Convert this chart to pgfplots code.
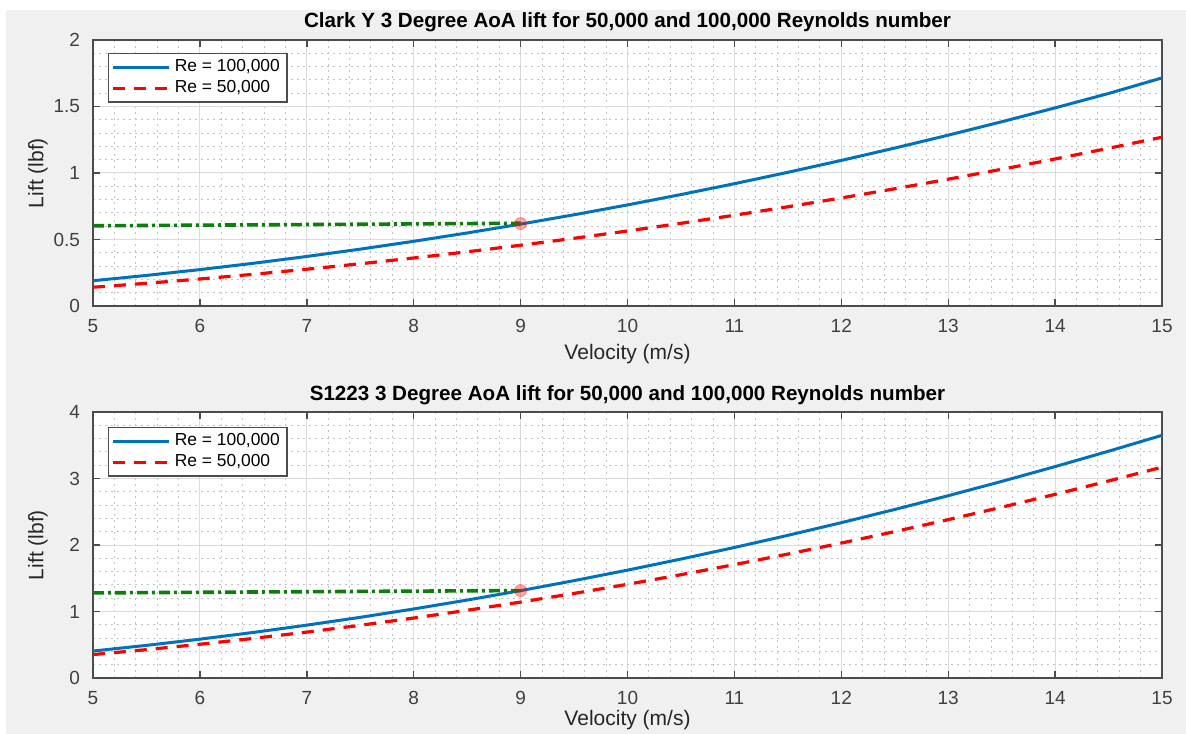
\documentclass[border=0pt]{standalone}
\usepackage{pgfplots}
\pgfplotsset{compat=1.18}
\usepackage{fontspec}
\setmainfont{Liberation Sans}
\definecolor{mblue}{RGB}{0,114,189}
\definecolor{mgreen}{RGB}{10,128,10}
\definecolor{figbg}{RGB}{240,240,240}
\definecolor{tickc}{RGB}{64,64,64}

\pgfplotstableread{
V a b
5 0.190 0.141
5.5 0.2299 0.1706
6 0.2736 0.2030
6.5 0.3211 0.2383
7 0.3724 0.2764
7.5 0.4275 0.3173
8 0.4864 0.3610
8.5 0.5491 0.4075
9 0.6156 0.4568
9.5 0.6859 0.5090
10 0.7600 0.5640
10.5 0.8379 0.6218
11 0.9196 0.6824
11.5 1.0051 0.7459
12 1.0944 0.8122
12.5 1.1875 0.8813
13 1.2844 0.9532
13.5 1.3851 1.0279
14 1.4896 1.1054
14.5 1.5979 1.1858
15 1.7150 1.2690
}\clarky

\pgfplotstableread{
V a b
5 0.4055 0.3523
5.5 0.4907 0.4262
6 0.5839 0.5072
6.5 0.6853 0.5953
7 0.7948 0.6904
7.5 0.9124 0.7926
8 1.0381 0.9018
8.5 1.1719 1.0180
9 1.3138 1.1413
9.5 1.4639 1.2716
10 1.6220 1.4090
10.5 1.7883 1.5534
11 1.9626 1.7049
11.5 2.1451 1.8634
12 2.3357 2.0290
12.5 2.5344 2.2016
13 2.7412 2.3812
13.5 2.9561 2.5679
14 3.1791 2.7616
14.5 3.4103 2.9624
15 3.6495 3.1703
}\selig

\pgfplotsset{
  every axis title shift=0pt,
  mstyle/.style={
    scale only axis,
    width=534.5bp, height=133bp,
    xmin=5, xmax=15, xtick={5,6,...,15},
    minor x tick num=4, minor y tick num=4,
    grid=both,
    major grid style={draw=black!14, line width=0.5bp},
    minor grid style={draw=black!24, line width=0.45bp, dash pattern=on 1bp off 2bp},
    axis line style={draw=black!70, line width=0.9bp},
    tick style={draw=black!70, line width=0.7bp},
    major tick length=3.5bp, minor tick length=0pt,
    tick align=inside,
    axis background/.style={fill=white},
    ticklabel style={font=\fontsize{9.5bp}{11bp}\selectfont, text=tickc},
    xticklabel style={anchor=center, yshift=-10bp},
    yticklabel style={anchor=east, xshift=-3bp},
    y tick label style={/pgf/number format/.cd, fixed, assume math mode=true},
    x tick label style={/pgf/number format/assume math mode=true},
    label style={font=\fontsize{10.5bp}{12bp}\selectfont, text=black!85},
    xlabel={Velocity (m/s)},
    ylabel={Lift (lbf)},
    y label style={at={(axis description cs:-0.0515,0.5)}, anchor=center, rotate=0},
    title style={font=\bfseries\fontsize{10.3bp}{12bp}\selectfont, anchor=center},
    legend cell align=left,
    legend style={draw=black!70, fill=white, line width=0.7bp,
      font=\fontsize{8.7bp}{10bp}\selectfont, inner xsep=1.5bp, inner ysep=1bp,
      row sep=-1bp},
    legend image code/.code={\draw[#1] (0bp,0bp) -- (28bp,0bp);},
  },
  blueline/.style={draw=mblue, line width=1.5bp, no marks},
  redline/.style={draw=red, line width=1.6bp, no marks, dash pattern=on 6bp off 4.5bp},
  greenline/.style={draw=mgreen, line width=1.8bp, no marks, dash pattern=on 5.5bp off 2bp on 1.5bp off 2bp},
  hit/.style={only marks, mark=*, mark size=3bp, mark options={fill=red, draw=red, fill opacity=0.35, draw opacity=0.35}, forget plot},
}

\begin{document}
\begin{tikzpicture}
\useasboundingbox (0,0) rectangle (593bp,367bp);
\fill[white] (0,0) rectangle (593bp,367bp);
\fill[figbg] (3bp,0) rectangle (593bp,362bp);

\begin{axis}[mstyle,
  at={(46.5bp,214bp)}, anchor=south west,
  ymin=0, ymax=2, ytick={0,0.5,...,2},
  yticklabels={0,0.5,1,1.5,2},
  title={Clark Y 3 Degree AoA lift for 50,000 and 100,000 Reynolds number},
  title style={at={(axis description cs:0.5,1.068)}},
  x label style={at={(axis description cs:0.5,-0.180)}, anchor=center},
  legend style={at={(axis description cs:0.014,0.951)}, anchor=north west},
]
\addplot[blueline] table[x=V,y=a] {\clarky};
\addlegendentry{Re = 100,000}
\addplot[redline] table[x=V,y=b] {\clarky};
\addlegendentry{Re = 50,000}
\addplot[greenline, forget plot] coordinates {(5,0.603) (9,0.622)};
\addplot[hit] coordinates {(9,0.62)};
\end{axis}

\begin{axis}[mstyle,
  at={(46.5bp,28bp)}, anchor=south west,
  ymin=0, ymax=4, ytick={0,1,...,4},
  title={S1223 3 Degree AoA lift for 50,000 and 100,000 Reynolds number},
  title style={at={(axis description cs:0.5,1.064)}},
  x label style={at={(axis description cs:0.5,-0.158)}, anchor=center},
  legend style={at={(axis description cs:0.014,0.944)}, anchor=north west},
]
\addplot[blueline] table[x=V,y=a] {\selig};
\addlegendentry{Re = 100,000}
\addplot[redline] table[x=V,y=b] {\selig};
\addlegendentry{Re = 50,000}
\addplot[greenline, forget plot] coordinates {(5,1.28) (9,1.315)};
\addplot[hit] coordinates {(9,1.315)};
\end{axis}
\end{tikzpicture}
\end{document}
